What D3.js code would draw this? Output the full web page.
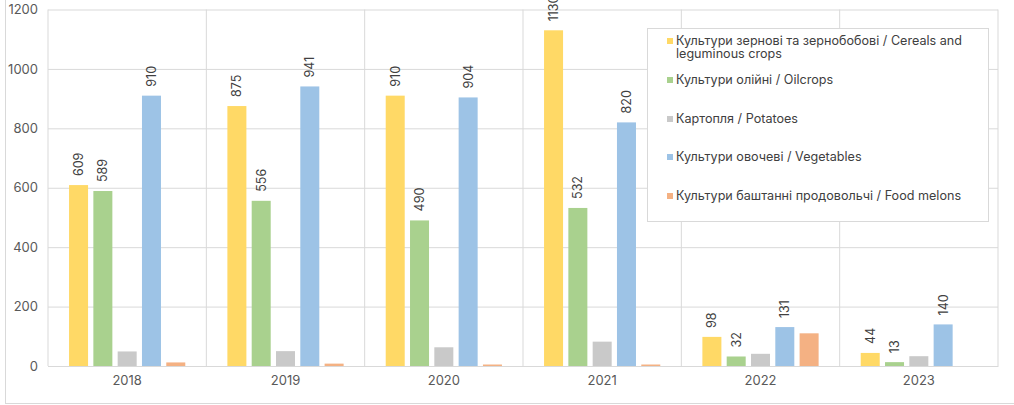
<!DOCTYPE html>
<html><head><meta charset="utf-8">
<script src="https://cdn.jsdelivr.net/npm/d3@7"></script>
<style>body{margin:0;background:#fff}svg{display:block}</style>
</head><body>
<svg id="c" width="1014" height="405"></svg>
<script>
const years = ["2018","2019","2020","2021","2022","2023"];
const seriesNames = [
  "Культури зернові та зернобобові / Cereals and leguminous crops",
  "Культури олійні / Oilcrops",
  "Картопля / Potatoes",
  "Культури овочеві / Vegetables",
  "Культури баштанні продовольчі / Food melons"
];
const legendLines = [
  ["Культури зернові та зернобобові / Cereals and", "leguminous crops"],
  ["Культури олійні / Oilcrops"],
  ["Картопля / Potatoes"],
  ["Культури овочеві / Vegetables"],
  ["Культури баштанні продовольчі / Food melons"]
];
const cereals = [609, 875, 910, 1130, 98, 44];
const oilcrops = [589, 556, 490, 532, 32, 13];
const potatoes = [49, 50, 63, 82, 41, 33];
const vegetables = [910, 941, 904, 820, 131, 140];
const melons = [12, 8, 5, 5, 110, 0];
const showLabel = [true, true, false, true, false];
const yTicks = [0, 200, 400, 600, 800, 1000, 1200];
const colors = ["#FFD966", "#A9D18E", "#C9C9C9", "#9DC3E6", "#F4B183"];

const values = [cereals, oilcrops, potatoes, vegetables, melons];
const svg = d3.select("#c");
const font = "Inter, 'Open Sans', sans-serif";
const pL = 48, pR = 998, pT = 9.5, pB = 366;

// outer frame
svg.append("rect").attr("x", 5.5).attr("y", -10).attr("width", 1020).attr("height", 413.5)
  .attr("fill", "none").attr("stroke", "#d9d9d9");

const y = d3.scaleLinear().domain([0, 1200]).range([pB, pT]);
const x0 = d3.scaleBand().domain(years).range([pL, pR]).padding(0);
const x1 = d3.scaleBand().domain(d3.range(5)).range([0, x0.bandwidth()]).paddingInner(0.218).paddingOuter(0.866);

// horizontal gridlines
const yAxis = d3.axisLeft(y).tickValues(yTicks).tickFormat(d3.format("d")).tickSize(-(pR - pL)).tickPadding(10);
const gy = svg.append("g").attr("transform", `translate(${pL},0)`).call(yAxis);
gy.select(".domain").remove();
gy.selectAll(".tick line").attr("stroke", "#d9d9d9");
gy.selectAll(".tick text").attr("fill", "#595959").style("font-size", "13px").style("font-family", font);

// vertical gridlines
svg.append("g").selectAll("line").data(years.concat(["end"])).join("line")
  .attr("x1", (d, i) => pL + i * x0.step()).attr("x2", (d, i) => pL + i * x0.step())
  .attr("y1", pT).attr("y2", pB).attr("stroke", "#d9d9d9");

// x axis
const xAxis = d3.axisBottom(x0).tickSize(0).tickPadding(10);
const gx = svg.append("g").attr("transform", `translate(0,${pB})`).call(xAxis);
gx.select(".domain").attr("stroke", "#d9d9d9");
gx.selectAll(".tick text").attr("fill", "#595959").style("font-size", "13px").style("font-family", font);

// bars
const groups = svg.append("g").selectAll("g").data(years).join("g")
  .attr("transform", d => `translate(${x0(d)},0)`);
groups.selectAll("rect").data((d, i) => values.map((s, k) => ({k, v: s[i]}))).join("rect")
  .attr("x", d => x1(d.k)).attr("width", x1.bandwidth())
  .attr("y", d => y(d.v)).attr("height", d => pB - y(d.v))
  .attr("fill", d => colors[d.k]);

// labels
groups.selectAll("text").data((d, i) => values.map((s, k) => ({k, v: s[i]})).filter(d => showLabel[d.k])).join("text")
  .attr("transform", d => `translate(${x1(d.k) + x1.bandwidth() / 2 + 4.5},${y(d.v) - 9}) rotate(-90)`)
  .attr("text-anchor", "start").attr("fill", "#404040")
  .style("font-size", "12.5px").style("font-family", font)
  .text(d => d.v);

// legend
const lg = svg.append("g");
lg.append("rect").attr("x", 647.5).attr("y", 28.5).attr("width", 341).attr("height", 193)
  .attr("fill", "#fff").attr("stroke", "#d9d9d9");
const itemY = [41, 80, 119, 157, 196];
seriesNames.forEach((name, k) => {
  lg.append("rect").attr("x", 667).attr("y", itemY[k] - 3).attr("width", 6).attr("height", 6).attr("fill", colors[k]);
  legendLines[k].forEach((ln, j) => {
    lg.append("text").attr("x", 676).attr("y", itemY[k] + j * 13).attr("dy", "0.35em")
      .attr("fill", "#404040").style("font-size", "12.6px").style("font-family", font).text(ln);
  });
});
</script>
</body></html>
